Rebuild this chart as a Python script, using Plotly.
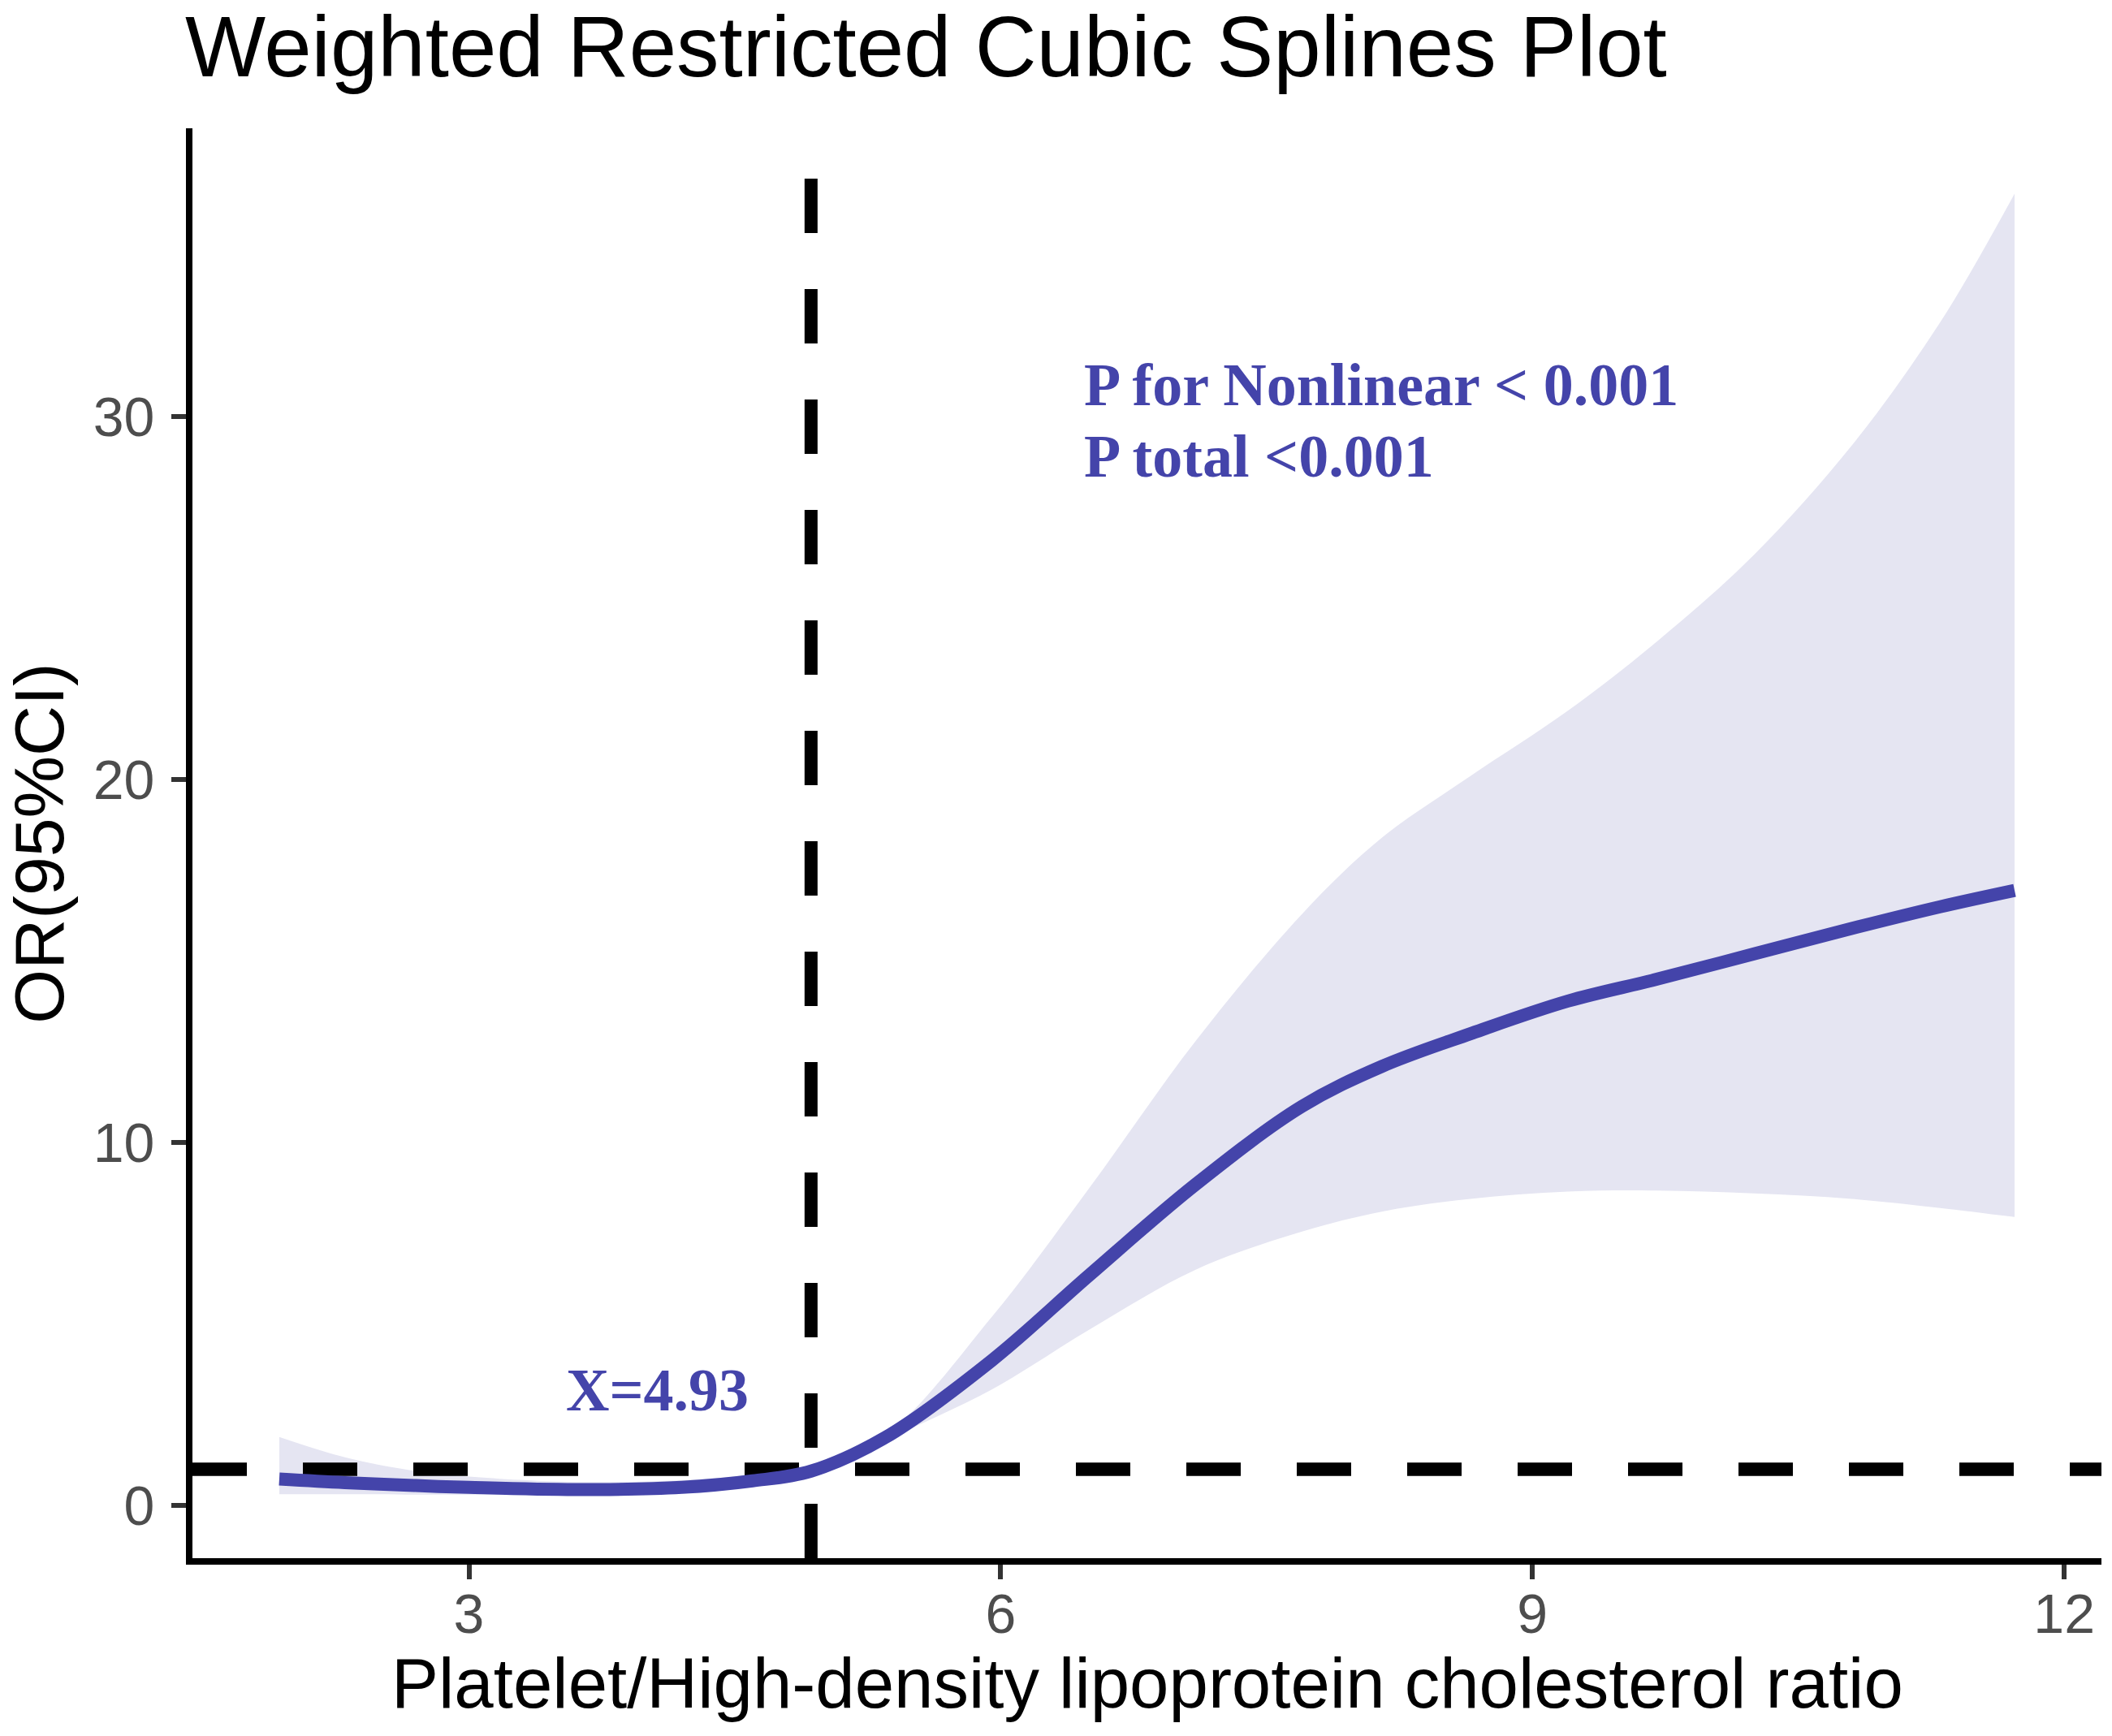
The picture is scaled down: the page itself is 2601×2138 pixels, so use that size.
import plotly.graph_objects as go

# ---- data ----
ratio_x = [1.93, 2.3, 2.7, 3.0, 3.6, 4.2, 4.6, 4.93, 5.35, 5.95, 6.5, 7.1, 7.7,
           8.15, 8.65, 9.2, 9.7, 10.25, 10.8, 11.3, 11.72]
or_fit = [0.73, 0.63, 0.55, 0.5, 0.44, 0.5, 0.68, 0.95, 1.88, 4.0, 6.35, 8.85, 11.0,
          12.1, 13.0, 13.9, 14.5, 15.2, 15.9, 16.5, 16.95]
ci_upper = [1.89, 1.33, 0.95, 0.8, 0.65, 0.7, 0.85, 1.1, 1.95, 5.2, 8.75, 12.8, 16.3,
            18.4, 20.1, 21.9, 23.8, 26.2, 29.2, 32.6, 36.15]
ci_lower = [0.31, 0.31, 0.3, 0.3, 0.28, 0.33, 0.52, 0.82, 1.8, 3.2, 4.85, 6.5, 7.55,
            8.1, 8.45, 8.65, 8.68, 8.6, 8.45, 8.2, 7.95]

ref_or = 1.0          # horizontal reference line
cutoff_x = 4.93       # threshold

x_ticks = [3, 6, 9, 12]
y_ticks = [0, 10, 20, 30]
x_range = [1.44, 12.21]
y_range = [-1.45, 37.95]

title_text = "Weighted Restricted Cubic Splines Plot"
x_title = "Platelet/High-density lipoprotein cholesterol ratio"
y_title = "OR(95%CI)"
p_lines = ["P for Nonlinear < 0.001", "P total <0.001"]
p_y = [30.88, 28.90]
p_x = 6.462
cut_label = "X=4.93"
cut_label_pos = (4.061, 3.18)

# ---- styles ----
W, H = 2601, 2138
M_L, M_R, M_T, M_B = 237, 13, 158, 219
LINE_COL = "#4444AA"
BAND_COL = "#E5E5F2"
SANS = "Liberation Sans, Arial, sans-serif"
SERIF = "Liberation Serif, Times New Roman, serif"

fig = go.Figure()

# CI band
fig.add_trace(go.Scatter(x=ratio_x, y=ci_lower, mode="lines", line=dict(width=0, shape="spline"),
                         showlegend=False, hoverinfo="skip"))
fig.add_trace(go.Scatter(x=ratio_x, y=ci_upper, mode="lines", line=dict(width=0, shape="spline"),
                         fill="tonexty", fillcolor=BAND_COL, showlegend=False, hoverinfo="skip"))

# dashed reference lines
fig.add_trace(go.Scatter(x=x_range, y=[ref_or, ref_or], mode="lines",
                         line=dict(color="black", width=16.5, dash="67px,69px"),
                         showlegend=False, hoverinfo="skip"))
fig.add_trace(go.Scatter(x=[cutoff_x, cutoff_x], y=y_range, mode="lines",
                         line=dict(color="black", width=16, dash="67px,69px"),
                         showlegend=False, hoverinfo="skip"))

# fitted OR curve
fig.add_trace(go.Scatter(x=ratio_x, y=or_fit, mode="lines",
                         line=dict(color=LINE_COL, width=16, shape="spline"),
                         showlegend=False))

annotations = []
for txt, yy in zip(p_lines, p_y):
    annotations.append(dict(x=p_x, y=yy, xref="x", yref="y", text="<b>%s</b>" % txt,
                            showarrow=False, xanchor="left", yanchor="middle",
                            font=dict(family=SERIF, size=74, color=LINE_COL)))
annotations.append(dict(x=cut_label_pos[0], y=cut_label_pos[1], xref="x", yref="y",
                        text="<b>%s</b>" % cut_label, showarrow=False,
                        xanchor="center", yanchor="middle",
                        font=dict(family=SERIF, size=74, color=LINE_COL)))
# x-axis title (placed as paper annotation for exact vertical position)
plot_h = H - M_T - M_B
annotations.append(dict(x=0.5, y=-(2072 - (H - M_B)) / plot_h, xref="paper", yref="paper",
                        text=x_title, showarrow=False, xanchor="center", yanchor="middle",
                        font=dict(family=SANS, size=87, color="black")))

axis_common = dict(showline=True, linecolor="black", linewidth=8, mirror=False,
                   ticks="outside", ticklen=18, tickwidth=6, tickcolor="#333333",
                   tickfont=dict(family=SANS, size=68, color="#4D4D4D"),
                   showgrid=False, zeroline=False, automargin=False)

fig.update_layout(
    width=W, height=H,
    paper_bgcolor="white", plot_bgcolor="white",
    margin=dict(l=M_L, r=M_R, t=M_T, b=M_B, pad=0),
    title=dict(text=title_text, x=228 / W, xref="container", xanchor="left",
               y=1 - 57 / H, yref="container", yanchor="middle",
               font=dict(family=SANS, size=105, color="black")),
    xaxis=dict(range=x_range, tickvals=x_ticks, ticklabelstandoff=-16, **axis_common),
    yaxis=dict(range=y_range, tickvals=y_ticks, ticklabelstandoff=7,
               title=dict(text=y_title, font=dict(family=SANS, size=86, color="black"), standoff=26),
               **axis_common),
    annotations=annotations,
    showlegend=False,
)

fig.write_html("out.html", config={"displayModeBar": False},
               post_script="document.body.style.margin='0px';document.body.style.overflow='hidden';")
